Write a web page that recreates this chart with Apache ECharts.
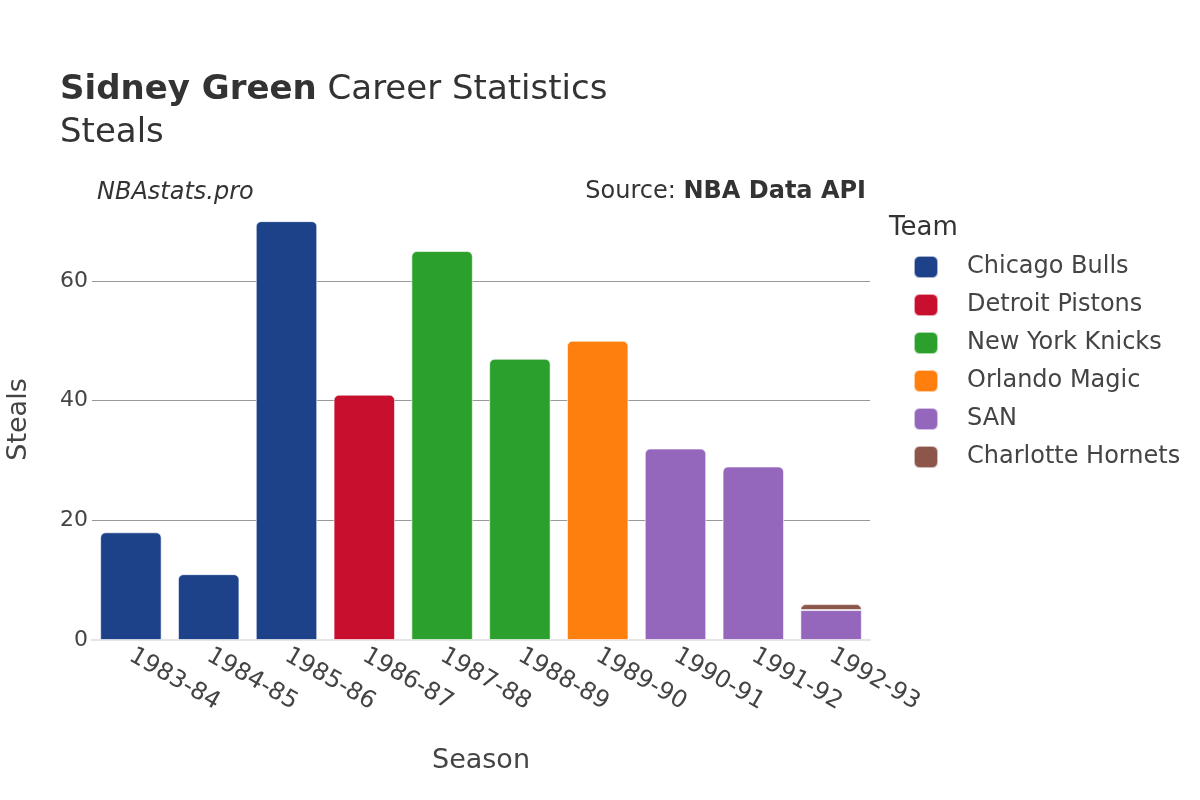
<!DOCTYPE html>
<html>
<head>
<meta charset="utf-8">
<script src="https://cdn.jsdelivr.net/npm/echarts@6/dist/echarts.min.js"></script>
<style>
  html, body { margin: 0; padding: 0; background: #fff; }
  #main { width: 1200px; height: 800px; }
</style>
</head>
<body>
<div id="main"></div>
<script>
// seasons on the x axis
var seasons = ['1983-84', '1984-85', '1985-86', '1986-87', '1987-88',
               '1988-89', '1989-90', '1990-91', '1991-92', '1992-93'];

// steals per team, one value per season (null = did not play there)
var bulls     = [18, 11, 70, null, null, null, null, null, null, null];
var pistons   = [null, null, null, 41, null, null, null, null, null, null];
var knicks    = [null, null, null, null, 65, 47, null, null, null, null];
var magic     = [null, null, null, null, null, null, 50, null, null, null];
var san       = [null, null, null, null, null, null, null, 32, 29, 5];
var hornets   = [null, null, null, null, null, null, null, null, null, 1];

var teamNames  = ['Chicago Bulls', 'Detroit Pistons', 'New York Knicks', 'Orlando Magic', 'SAN', 'Charlotte Hornets'];
var teamValues = [bulls, pistons, knicks, magic, san, hornets];
var teamColors = ['#1d428a', '#c8102e', '#2ca02c', '#ff7f0e', '#9467bd', '#8c564b'];

var yTicks = [0, 20, 40, 60];
var yMax = 73.7;

var font = 'DejaVu Sans';
var textColor = '#444';

// which series sits on top of the stack for each season
function topSeries(idx) {
    var top = -1;
    for (var i = 0; i < teamValues.length; i++) {
        if (teamValues[i][idx] != null) top = i;
    }
    return top;
}

var series = teamNames.map(function(name, i) {
    return {
        name: name,
        type: 'bar',
        stack: 'total',
        barCategoryGap: '21%',
        itemStyle: {
            color: teamColors[i],
            borderColor: 'rgba(255,255,255,0.6)',
            borderWidth: 1
        },
        data: teamValues[i].map(function(v, j) {
            if (v == null) return null;
            return {
                value: v,
                itemStyle: { borderRadius: topSeries(j) == i ? [5, 5, 0, 0] : 0 }
            };
        })
    };
});

var myChart = echarts.init(document.getElementById('main'));
var option = {
    animation: false,
    textStyle: { fontFamily: font },
    grid: { left: 92, right: 330, top: 199, bottom: 160, containLabel: false, outerBoundsMode: 'none' },
    legend: {
        data: teamNames,
        orient: 'vertical',
        left: 913,
        top: 255,
        padding: 0,
        icon: 'roundRect',
        itemWidth: 24,
        itemHeight: 22,
        itemGap: 14,
        textStyle: {
            fontFamily: font,
            fontSize: 24,
            lineHeight: 22,
            color: textColor,
            padding: [0, 0, 0, 24]
        }
    },
    xAxis: {
        type: 'category',
        data: seasons,
        name: 'Season',
        nameLocation: 'middle',
        nameGap: 107,
        nameTextStyle: { fontFamily: font, fontSize: 27, color: textColor },
        axisLine: { lineStyle: { color: '#e5e5e5', width: 2 } },
        axisTick: { show: false },
        axisLabel: {
            rotate: -30,
            margin: 14,
            fontFamily: font,
            fontSize: 24,
            color: textColor,
            interval: 0
        }
    },
    yAxis: {
        type: 'value',
        min: 0,
        max: yMax,
        interval: 20,
        name: 'Steals',
        nameLocation: 'middle',
        nameGap: 60,
        nameTextStyle: { fontFamily: font, fontSize: 27, color: textColor },
        axisLine: { show: false },
        axisTick: { show: false },
        axisLabel: {
            margin: 4,
            fontFamily: font,
            fontSize: 22,
            color: textColor,
            showMaxLabel: false,
            formatter: function(v) { return yTicks.indexOf(v) >= 0 ? v : ''; }
        },
        splitLine: {
            showMinLine: false,
            showMaxLine: false,
            lineStyle: { color: '#999', width: 1 }
        }
    },
    graphic: [
        {
            type: 'text', left: 60, top: 73,
            style: {
                text: '{b|Sidney Green} Career Statistics',
                fontFamily: font, fontSize: 34, fill: '#333',
                rich: { b: { fontFamily: font, fontSize: 34, fontWeight: 'bold', fill: '#333' } }
            }
        },
        {
            type: 'text', left: 60, top: 116,
            style: { text: 'Steals', fontFamily: font, fontSize: 34, fill: '#333' }
        },
        {
            type: 'text', left: 97, top: 181,
            style: { text: 'NBAstats.pro', fontFamily: font, fontSize: 24, fontStyle: 'italic', fill: '#333' }
        },
        {
            type: 'text', right: 334, top: 180,
            style: {
                text: 'Source: {b|NBA Data API}',
                fontFamily: font, fontSize: 24, fill: '#333',
                rich: { b: { fontFamily: font, fontSize: 24, fontWeight: 'bold', fill: '#333' } }
            }
        },
        {
            type: 'text', left: 889, top: 215,
            style: { text: 'Team', fontFamily: font, fontSize: 26, fill: '#333' }
        }
    ],
    series: series
};
myChart.setOption(option);
</script>
</body>
</html>
